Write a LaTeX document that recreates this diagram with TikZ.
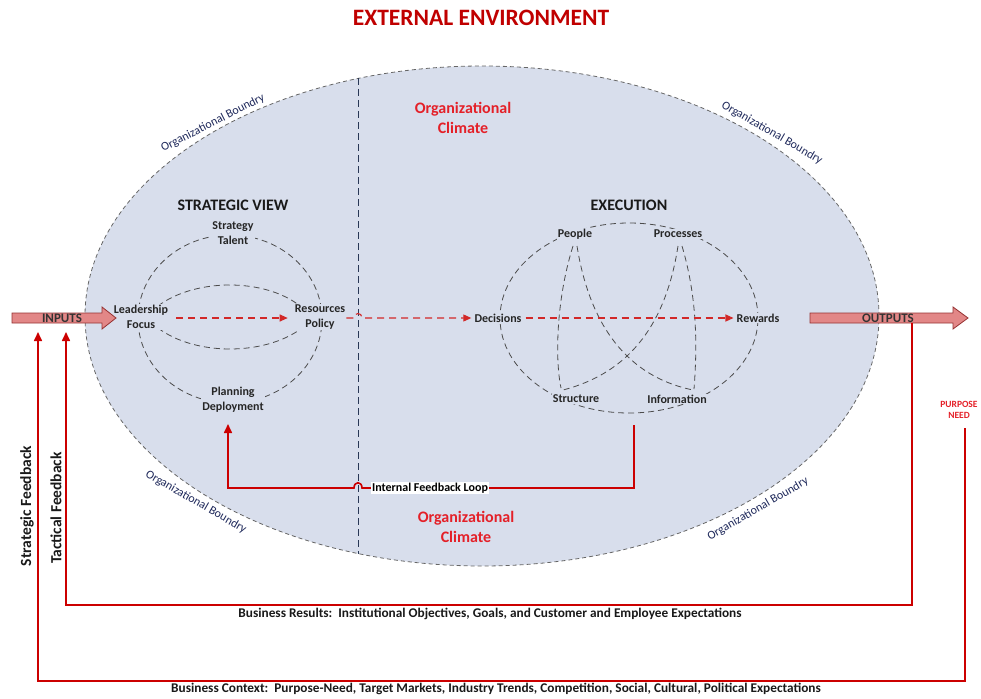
\documentclass[tikz,border=0pt]{standalone}
\usepackage{fontspec}
\setmainfont{Carlito}
\usetikzlibrary{arrows.meta}

\definecolor{titlered}{RGB}{192,0,0}
\definecolor{climred}{RGB}{228,32,40}
\definecolor{fbred}{RGB}{204,0,0}
\definecolor{flowred}{RGB}{210,40,40}
\definecolor{orgfill}{RGB}{216,222,236}
\definecolor{bndnavy}{RGB}{30,40,90}
\definecolor{vline}{RGB}{40,55,85}
\definecolor{arrowfill}{RGB}{226,135,135}
\definecolor{arrowline}{RGB}{150,50,50}

\begin{document}
\begin{tikzpicture}[x=1pt,y=-1pt,
    lbl/.style={font=\bfseries\fontsize{12}{15}\selectfont,text=black!85,align=center,inner sep=1pt,fill=orgfill},
    head/.style={font=\bfseries\fontsize{16}{18}\selectfont,text=black!90},
    climate/.style={font=\bfseries\fontsize{16}{20}\selectfont,text=climred,align=center},
    bndry/.style={font=\fontsize{12}{13}\selectfont,text=bndnavy},
    ring/.style={draw=black!70,line width=.8pt,dash pattern=on 6pt off 4pt},
    flow/.style={draw=flowred,line width=1.1pt,dash pattern=on 7pt off 5pt,-{Triangle[length=8pt,width=7pt]}},
    fb/.style={draw=fbred,line width=1.6pt},
    fbtip/.style={fb,-{Triangle[length=9pt,width=8pt]}},
    bigarrow/.style={fill=arrowfill,draw=arrowline,line width=.8pt},
    io/.style={font=\bfseries\fontsize{13}{15}\selectfont,text=black!80,inner sep=0pt},
    fbl/.style={font=\bfseries\fontsize{15.5}{17}\selectfont,rotate=90,text=black!90},
    ctx/.style={font=\bfseries\fontsize{13.3}{15}\selectfont,text=black!90}]
    \useasboundingbox (0,0) rectangle (981,698);
    % title
    \node[font=\bfseries\fontsize{23.5}{26}\selectfont,text=titlered] (env) at (481,18) {EXTERNAL ENVIRONMENT};
    % organization
    \draw[fill=orgfill,draw=black!60,line width=.8pt,dash pattern=on 4pt off 3pt] (482,316) ellipse [x radius=397pt,y radius=250pt];
    \draw[vline,line width=1pt,dash pattern=on 7pt off 4pt] (358,78) -- (358,554);
    \node[climate] (clt) at (463,118) {Organizational\\Climate};
    \node[climate] (clb) at (466,527) {Organizational\\Climate};
    \node[bndry,rotate=27] (b1) at (213,123) {Organizational Boundry};
    \node[bndry,rotate=-30] (b2) at (772,133) {Organizational Boundry};
    \node[bndry,rotate=-30] (b3) at (196,502) {Organizational Boundry};
    \node[bndry,rotate=30] (b4) at (758,509) {Organizational Boundry};
    % strategic view
    \node[head] (sv) at (233,205) {STRATEGIC VIEW};
    \draw[ring] (230,319) ellipse [x radius=92pt,y radius=84pt];
    \draw[ring] (158,306) .. controls (195,278) and (265,278) .. (300,306);
    \draw[ring] (158,328) .. controls (195,356) and (265,356) .. (302,328);
    \node[lbl] (st) at (233,233) {Strategy\\Talent};
    \node[lbl] (lf) at (141,317) {Leadership\\Focus};
    \node[lbl] (rp) at (320,317) {Resources\\Policy};
    \node[lbl] (pd) at (233,400) {Planning\\Deployment};
    % execution
    \node[head] (ex) at (629,205) {EXECUTION};
    \draw[ring] (629,318) ellipse [x radius=129pt,y radius=95pt];
    \draw[ring] (573,246) .. controls (556,300) and (555,360) .. (561,388);
    \draw[ring] (577,246) .. controls (588,315) and (620,375) .. (693,390);
    \draw[ring] (678,246) .. controls (668,310) and (640,370) .. (563,390);
    \draw[ring] (682,246) .. controls (698,300) and (697,350) .. (694,389);
    \node[lbl] (pe) at (575,234) {People};
    \node[lbl] (pr) at (678,234) {Processes};
    \node[lbl] (de) at (498,318) {Decisions};
    \node[lbl] (rw) at (758,318) {Rewards};
    \node[lbl] (su) at (576,399) {Structure};
    \node[lbl] (in) at (677,399) {Information};
    % flow through the organization
    \draw[flow,shorten <=7pt,shorten >=6pt] ([yshift=-1pt]lf.east) -- ([yshift=-1pt]rp.west);
    \draw[flow] (rp.east |- 0,318) -- (354,318) .. controls (354,312) and (362,312) .. (362,318) -- ([xshift=-2pt]de.west);
    \draw[flow,shorten <=3pt,shorten >=2pt] (de.east) -- (rw.west);
    % inputs and outputs
    \draw[bigarrow] (12,313) -- (102,313) -- (102,307) -- (116,318) -- (102,329) -- (102,323) -- (12,323) -- cycle;
    \draw[bigarrow] (810,313) -- (953,313) -- (953,307) -- (968,318) -- (953,329) -- (953,323) -- (810,323) -- cycle;
    \node[io] (inp) at (62,318) {INPUTS};
    \node[io] (outp) at (888,318) {OUTPUTS};
    \node[font=\bfseries\fontsize{9.5}{11}\selectfont,text=climred,align=center] (need) at (959,410) {PURPOSE\\NEED};
    % internal feedback
    \coordinate (ifs) at (634,425);
    \coordinate (ife) at (228,424);
    \draw[fbtip] (ifs) -- (634,488) -- (362,488) .. controls (362,481) and (354,481) .. (354,488) -- (228,488) -- (ife);
    \node[font=\bfseries\fontsize{12}{14}\selectfont,fill=white,inner sep=1pt] (ifl) at (430,488) {Internal Feedback Loop};
    % tactical and strategic feedback
    \coordinate (tfs) at (912,323);
    \coordinate (tfe) at (66,332);
    \draw[fbtip] (tfs) -- (912,605) -- (66,605) -- (tfe);
    \coordinate (sfs) at (965,428);
    \coordinate (sfe) at (38,332);
    \draw[fbtip] (sfs) -- (965,681) -- (38,681) -- (sfe);
    \node[fbl] (sfb) at (27,506) {Strategic Feedback};
    \node[fbl] (tfb) at (56,508) {Tactical Feedback};
    \node[ctx] (res) at (490,614) {Business Results:\ \ Institutional Objectives, Goals, and Customer and Employee Expectations};
    \node[ctx] (bct) at (496,689) {Business Context:\ \ Purpose-Need, Target Markets, Industry Trends, Competition, Social, Cultural, Political Expectations};
\end{tikzpicture}
\end{document}
